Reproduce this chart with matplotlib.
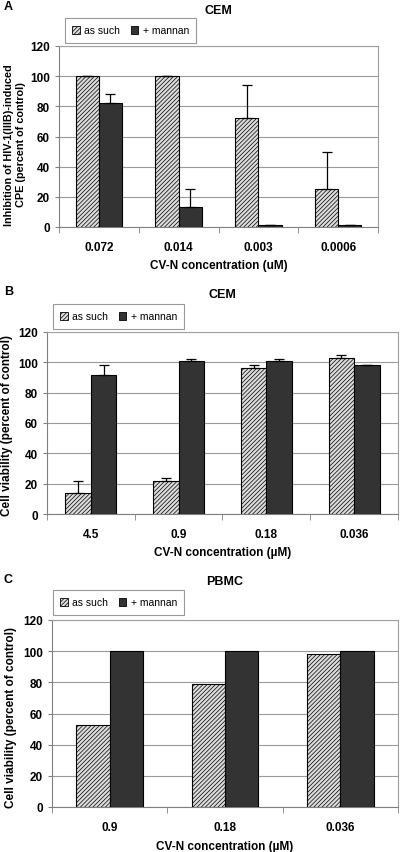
import numpy as np
import matplotlib
matplotlib.use('Agg')
import matplotlib.pyplot as plt
from matplotlib.patches import Patch

plt.rcParams['font.family'] = ['Liberation Sans', 'DejaVu Sans']
plt.rcParams['hatch.linewidth'] = 0.5

# panel A: CEM, HIV-1 inhibition
a_labels = ['0.072', '0.014', '0.003', '0.0006']
a_such = [100, 100, 72, 25]
a_such_err = [0, 0, 22, 25]
a_mannan = [82, 13, 1, 1]
a_mannan_err = [6, 12, 0, 0]

# panel B: CEM, cell viability
b_labels = ['4.5', '0.9', '0.18', '0.036']
b_such = [14, 22, 96.5, 103]
b_such_err = [8, 2, 2, 2]
b_mannan = [91.5, 101, 101, 98]
b_mannan_err = [6.5, 1.5, 1, 0]

# panel C: PBMC, cell viability
c_labels = ['0.9', '0.18', '0.036']
c_such = [52.5, 79, 98]
c_mannan = [100, 100, 100]

W, H = 400, 853
fig = plt.figure(figsize=(W / 100, H / 100), dpi=100)

HATCH_FC = '#dcdcdc'
DARK = '#333333'
HATCH = '////////'
bw = 0.29
FS = 8.5


def px_axes(left, top, right, bottom):
    return fig.add_axes([left / W, 1 - bottom / H, (right - left) / W, (bottom - top) / H])


def panel(ax, labels, such, mannan, such_err, mannan_err, title, letter,
          ylabel, xlabel, leg_box, title_y, letter_y, xlabel_y, ylabel_xy, ylabel_fs=FS):
    n = len(labels)
    x = np.arange(n)
    kw = dict(capsize=3.5, error_kw=dict(elinewidth=0.9, capthick=0.9, ecolor='black'))
    if such_err is not None:
        ax.bar(x - bw / 2, such, bw, color=HATCH_FC, edgecolor='black', linewidth=0.8,
               hatch=HATCH, yerr=[np.zeros(n), such_err], zorder=3, **kw)
        ax.bar(x + bw / 2, mannan, bw, color=DARK, edgecolor='black', linewidth=0.8,
               yerr=[np.zeros(n), mannan_err], zorder=3, **kw)
    else:
        ax.bar(x - bw / 2, such, bw, color=HATCH_FC, edgecolor='black', linewidth=0.8,
               hatch=HATCH, zorder=3)
        ax.bar(x + bw / 2, mannan, bw, color=DARK, edgecolor='black', linewidth=0.8,
               zorder=3)
    ax.set_xlim(-0.5, n - 0.5)
    ax.set_ylim(0, 120)
    ax.set_yticks(range(0, 121, 20))
    ax.yaxis.grid(True, color='#9a9a9a', linewidth=0.8, zorder=0)
    ax.set_xticks(x)
    ax.set_xticklabels(labels, fontsize=FS, fontweight='bold')
    ax.set_xticks(np.arange(n + 1) - 0.5, minor=True)
    ax.tick_params(axis='x', which='major', length=0, pad=10)
    ax.tick_params(axis='x', which='minor', length=4, color='#808080')
    ax.tick_params(axis='y', length=3, color='#808080', labelsize=FS)
    for t in ax.get_yticklabels():
        t.set_fontweight('bold')
    for s in ['top', 'right']:
        ax.spines[s].set_color('#a0a0a0')
    for s in ['left', 'bottom']:
        ax.spines[s].set_color('#808080')
    fig.text(ylabel_xy[0] / W, 1 - ylabel_xy[1] / H, ylabel, rotation=90,
             ha='center', va='center', fontsize=ylabel_fs, fontweight='bold',
             multialignment='center', linespacing=1.3)
    pos = ax.get_position()
    fig.text(pos.x0 + pos.width / 2, 1 - title_y / H, title, ha='center', va='center',
             fontsize=9, fontweight='bold')
    fig.text(4 / W, 1 - letter_y / H, letter, ha='left', va='center',
             fontsize=9, fontweight='bold')
    fig.text(pos.x0 + pos.width / 2, 1 - xlabel_y / H, xlabel, ha='center', va='center',
             fontsize=FS, fontweight='bold')
    handles = [Patch(facecolor=HATCH_FC, edgecolor='black', hatch=HATCH, linewidth=0.6),
               Patch(facecolor=DARK, edgecolor='black', linewidth=0.6)]
    l, t, r, b = leg_box
    leg = fig.legend(handles, ['as such', '+ mannan'], loc='center left',
                     bbox_to_anchor=(l / W, 1 - (t + b) / 2 / H), ncol=2, fontsize=7.5,
                     frameon=True, fancybox=False, edgecolor='#808080',
                     handlelength=0.7, handleheight=0.7, handletextpad=0.4,
                     columnspacing=1.1, borderpad=0.7, borderaxespad=0)
    leg.get_frame().set_linewidth(0.8)


axA = px_axes(59, 47, 378, 228)
panel(axA, a_labels, a_such, a_mannan, a_such_err, a_mannan_err, 'CEM', 'A',
      'Inhibition of HIV-1(IIIB)-induced\nCPE (percent of control)',
      'CV-N concentration (uM)', (65, 20, 195, 43), 11, 7, 266, (15, 145), 7.8)

axB = px_axes(47, 333, 398, 515)
panel(axB, b_labels, b_such, b_mannan, b_such_err, b_mannan_err, 'CEM', 'B',
      'Cell viability (percent of control)',
      'CV-N concentration (\u00b5M)', (53, 305, 180, 330), 295, 292, 553, (7, 425))

axC = px_axes(52, 621, 398, 808)
panel(axC, c_labels, c_such, c_mannan, None, None, 'PBMC', 'C',
      'Cell viability (percent of control)',
      'CV-N concentration (\u00b5M)', (53, 589, 177, 618), 582, 580, 847, (11, 718))

fig.savefig('out.png', dpi=100)
